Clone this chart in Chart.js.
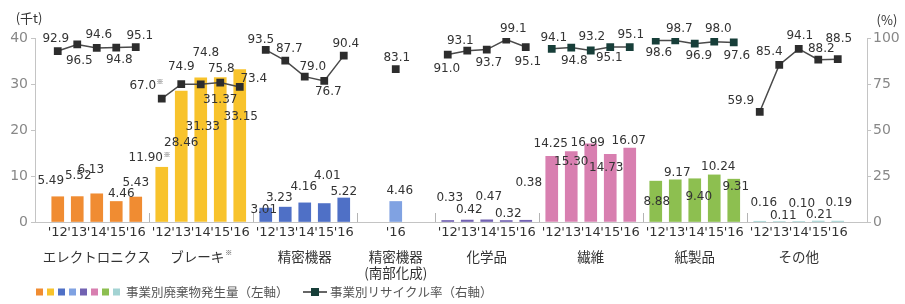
<!DOCTYPE html>
<html>
<head>
<meta charset="utf-8">
<script src="https://cdn.jsdelivr.net/npm/chart.js@4.4.1/dist/chart.umd.min.js"></script>
<style>
  html, body { margin: 0; padding: 0; background: #fff; }
</style>
</head>
<body>
<canvas id="waste-chart" width="905" height="304"></canvas>
<script>
// ---- data ----
const groupNames = ["エレクトロニクス", "ブレーキ※", "精密機器", "精密機器\n(南部化成)", "化学品", "繊維", "紙製品", "その他"];
const yearLabels = ["'12", "'13", "'14", "'15", "'16"];
const groupYears = [yearLabels, yearLabels, yearLabels, ["'16"], yearLabels, yearLabels, yearLabels, yearLabels];

// waste generated (thousand t, left axis)
const wasteElectronics = [5.49, 5.52, 6.13, 4.46, 5.43];
const wasteBrake = [11.90, 28.46, 31.33, 31.37, 33.15];
const wastePrecision = [3.01, 3.23, 4.16, 4.01, 5.22];
const wasteNanbu = [4.46];
const wasteChemical = [0.33, 0.42, 0.47, 0.32, 0.38];
const wasteTextile = [14.25, 15.30, 16.99, 14.73, 16.07];
const wastePaper = [8.88, 9.17, 9.40, 10.24, 9.31];
const wasteOther = [0.16, 0.11, 0.10, 0.21, 0.19];

// recycling rate (%, right axis)
const rateElectronics = [92.9, 96.5, 94.6, 94.8, 95.1];
const rateBrake = [67.0, 74.9, 74.8, 75.8, 73.4];
const ratePrecision = [93.5, 87.7, 79.0, 76.7, 90.4];
const rateNanbu = [83.1];
const rateChemical = [91.0, 93.1, 93.7, 99.1, 95.1];
const rateTextile = [94.1, 94.8, 93.2, 95.1, 95.1];
const ratePaper = [98.6, 98.7, 96.9, 98.0, 97.6];
const rateOther = [59.9, 85.4, 94.1, 88.2, 88.5];

const leftTicks = [0, 10, 20, 30, 40];
const rightTicks = [0, 25, 50, 75, 100];
const noteYear = "'12"; // brake '12 values carry a ※ note

const wasteSeries = [wasteElectronics, wasteBrake, wastePrecision, wasteNanbu, wasteChemical, wasteTextile, wastePaper, wasteOther];
const rateSeries = [rateElectronics, rateBrake, ratePrecision, rateNanbu, rateChemical, rateTextile, ratePaper, rateOther];

// ---- styles / layout ----
const groupColors = ["#f08c32", "#f8c32c", "#4f70c6", "#80a2e2", "#7262b2", "#d87fb0", "#8dbf50", "#a3d3d3"];
const markerColors = ["#2d2d2d", "#2d2d2d", "#2d2d2d", "#2d2d2d", "#2d2d2d", "#173e39", "#173e39", "#2d2d2d"];
const FONT = "'DejaVu Sans', Verdana, sans-serif";
const JP = "'Noto Sans CJK JP', 'Noto Sans', sans-serif";

// label offsets (px) from bar top / marker, hand-placed like the original
const wasteShift = [
  [[-7, -16], [1, -21], [-6, -24], [5, -8], [0, -14]],
  [[-16, -9], [0, 52], [2, 49], [0, 22], [1, 47]],
  [[-2, 2], [-6, -9], [-1, -16], [3, -28], [0, -6]],
  [[4, -11]],
  [[2, -23], [2, -10], [2, -23], [2, -7], [3, -37]],
  [[-1, -13], [0, 10], [-3, -1], [-4, 14], [-1, -7]],
  [[1, 21], [2, -7], [4, 18], [4, -8], [2, 8]],
  [[4, -18], [4, -6], [3, -18], [1, -6], [1, -18]]
];
const rateShift = [
  [[-2, -12], [2, 16], [2, -13], [3, 12], [4, -11]],
  [[-19, -13], [0, -17], [5, -31], [1, -14], [14, -8]],
  [[-5, -10], [4, -12], [8, -10], [4, 11], [2, -12]],
  [[1, -11]],
  [[-1, 14], [-7, -10], [2, 13], [7, -11], [2, 15]],
  [[2, -11], [3, 13], [1, -14], [-1, 11], [1, -12]],
  [[3, 12], [4, -12], [4, 12], [4, -13], [3, 13]],
  [[-19, -11], [-10, -13], [1, -13], [3, -11], [1, -20]]
];

// x axis is split in narrow slots: 3 per year, 1 between groups
const SUB = 3;
const PAD_LEFT = 2;
const PAD_RIGHT = 3;
function groupSpan(g) {
  return groupYears[g].length === 1 ? 11 : groupYears[g].length * SUB;
}
let slotCount = PAD_LEFT + PAD_RIGHT - 1;
groupYears.forEach((y, g) => { slotCount += groupSpan(g) + 1; });

const slotLabels = new Array(slotCount).fill("");
const wasteSlots = new Array(slotCount).fill(null);
const barColors = new Array(slotCount).fill("rgba(0,0,0,0)");
const groupSlots = [];
const separators = [];
let pos = PAD_LEFT;
groupYears.forEach((yrs, g) => {
  const span = groupSpan(g);
  const idxs = [];
  yrs.forEach((y, k) => {
    const idx = yrs.length === 1 ? pos + Math.floor(span / 2) : pos + k * SUB + 1;
    slotLabels[idx] = y;
    wasteSlots[idx] = wasteSeries[g][k];
    barColors[idx] = groupColors[g];
    idxs.push(idx);
  });
  groupSlots.push(idxs);
  pos += span;
  if (g < groupYears.length - 1) separators.push(pos);
  pos += 1;
});

const lineSets = rateSeries.map((rates, g) => {
  const data = new Array(slotCount).fill(null);
  groupSlots[g].forEach((idx, k) => { data[idx] = rates[k]; });
  return {
    type: "line",
    data: data,
    yAxisID: "y2",
    spanGaps: true,
    borderColor: "#4a4a4a",
    borderWidth: 1.5,
    pointStyle: "rect",
    pointRadius: 5.5,
    pointBackgroundColor: markerColors[g],
    pointBorderColor: markerColors[g],
    pointBorderWidth: 0,
    order: 1,
  };
});

function drawLabel(ctx, text, x, y, note) {
  ctx.font = "12px " + FONT;
  ctx.fillStyle = "#333";
  ctx.textAlign = "center";
  ctx.textBaseline = "middle";
  ctx.fillText(text, x, y);
  if (note) {
    const w = ctx.measureText(text).width;
    ctx.font = "7px " + JP;
    ctx.textAlign = "left";
    ctx.fillText("※", x + w / 2 + 0.5, y - 4);
  }
}

const annotPlugin = {
  id: "annot",
  afterDatasetsDraw(chart) {
    const ctx = chart.ctx;
    const xs = chart.scales.x;
    const bottom = chart.chartArea.bottom;
    ctx.save();
    // group separator ticks
    ctx.strokeStyle = "#b4b4b4";
    ctx.lineWidth = 1;
    separators.forEach((idx) => {
      const px = Math.round(xs.getPixelForValue(idx)) + 0.5;
      ctx.beginPath();
      ctx.moveTo(px, bottom);
      ctx.lineTo(px, bottom - 9);
      ctx.stroke();
    });
    // value labels
    const barMeta = chart.getDatasetMeta(0);
    groupSlots.forEach((idxs, g) => {
      idxs.forEach((idx, k) => {
        const note = g === 1 && groupYears[g][k] === noteYear;
        const bar = barMeta.data[idx];
        const ws = wasteShift[g][k];
        drawLabel(ctx, wasteSeries[g][k].toFixed(2), bar.x + ws[0], bar.y + ws[1], note);
        const pt = chart.getDatasetMeta(g + 1).data[idx];
        const rs = rateShift[g][k];
        drawLabel(ctx, rateSeries[g][k].toFixed(1), pt.x + rs[0], pt.y + rs[1], note);
      });
    });
    ctx.restore();
  },
  afterDraw(chart) {
    const ctx = chart.ctx;
    const xs = chart.scales.x;
    ctx.save();
    ctx.fillStyle = "#333";
    ctx.textBaseline = "middle";
    // group names under the year ticks
    groupNames.forEach((name, g) => {
      const idxs = groupSlots[g];
      const cx = (xs.getPixelForValue(idxs[0]) + xs.getPixelForValue(idxs[idxs.length - 1])) / 2;
      name.split("\n").forEach((line, li) => {
        const y = 257 + li * 16;
        ctx.font = "13.5px " + JP;
        if (line.endsWith("※")) {
          const main = line.slice(0, -1);
          const w = ctx.measureText(main).width;
          ctx.textAlign = "left";
          ctx.fillText(main, cx - (w + 7) / 2, y);
          ctx.font = "7px " + JP;
          ctx.fillText("※", cx - (w + 7) / 2 + w + 1, y - 5);
        } else {
          ctx.textAlign = "center";
          ctx.fillText(line, cx, y);
        }
      });
    });
    // axis units
    ctx.font = "13px " + JP;
    ctx.textAlign = "center";
    ctx.fillText("(千t)", 29, 18);
    ctx.fillText("(%)", 887, 20);
    // legend
    const ly = 292;
    groupColors.forEach((c, i) => {
      ctx.fillStyle = c;
      ctx.fillRect(36 + i * 11, ly - 3.5, 7, 7);
    });
    ctx.fillStyle = "#555";
    ctx.font = "12.5px " + JP;
    ctx.textAlign = "left";
    ctx.fillText("事業別廃棄物発生量（左軸）", 126, ly);
    ctx.strokeStyle = "#333";
    ctx.lineWidth = 1.5;
    ctx.beginPath();
    ctx.moveTo(303, ly);
    ctx.lineTo(327, ly);
    ctx.stroke();
    ctx.fillStyle = "#173e39";
    ctx.fillRect(311, ly - 4, 8, 8);
    ctx.fillStyle = "#555";
    ctx.fillText("事業別リサイクル率（右軸）", 330, ly);
    ctx.restore();
  },
};

const wasteChart = new Chart(document.getElementById("waste-chart"), {
  type: "bar",
  data: {
    labels: slotLabels,
    datasets: [
      {
        data: wasteSlots,
        yAxisID: "y",
        backgroundColor: barColors,
        barThickness: 12,
        order: 2,
      },
    ].concat(lineSets),
  },
  options: {
    responsive: false,
    animation: false,
    layout: { padding: { top: 38, left: 0, right: 0, bottom: 0 } },
    plugins: { legend: { display: false }, tooltip: { enabled: false } },
    scales: {
      x: {
        type: "category",
        grid: { display: false, drawTicks: false },
        border: { display: true, color: "#c4c4c4" },
        ticks: {
          autoSkip: false,
          maxRotation: 0,
          minRotation: 0,
          padding: 3,
          color: "#333",
          font: { family: FONT, size: 13 },
        },
        afterFit: (s) => { s.height = 82; },
      },
      y: {
        position: "left",
        min: leftTicks[0],
        max: leftTicks[leftTicks.length - 1],
        afterBuildTicks: (s) => { s.ticks = leftTicks.map((v) => ({ value: v })); },
        grid: { drawOnChartArea: false, tickLength: 4, color: "#c4c4c4" },
        border: { color: "#c4c4c4" },
        ticks: { padding: 3, color: "#888", font: { family: FONT, size: 14 } },
        afterFit: (s) => { s.width = 35; },
      },
      y2: {
        position: "right",
        min: rightTicks[0],
        max: rightTicks[rightTicks.length - 1],
        afterBuildTicks: (s) => { s.ticks = rightTicks.map((v) => ({ value: v })); },
        grid: { drawOnChartArea: false, tickLength: 4, color: "#c4c4c4" },
        border: { color: "#c4c4c4" },
        ticks: { padding: 2, color: "#888", font: { family: FONT, size: 14 } },
        afterFit: (s) => { s.width = 38; },
      },
    },
  },
  plugins: [annotPlugin],
});
</script>
</body>
</html>
